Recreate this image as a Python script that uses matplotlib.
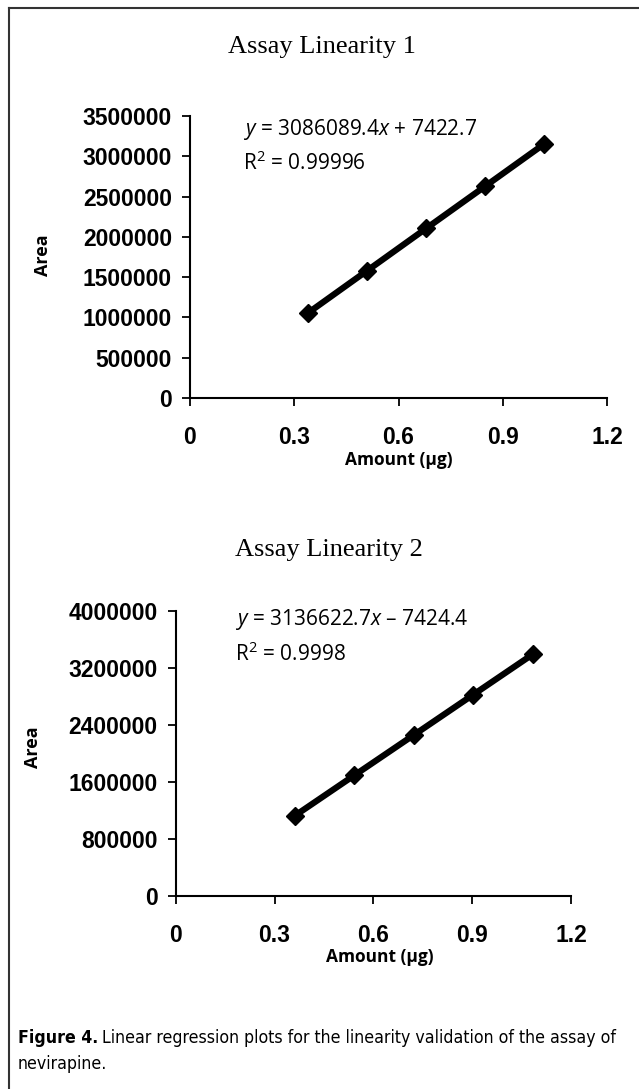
import matplotlib
matplotlib.use("Agg")
import matplotlib.pyplot as plt
from matplotlib.lines import Line2D

# data
amount1 = [0.340, 0.510, 0.680, 0.850, 1.018]
area1 = [1057000, 1581000, 2106000, 2630000, 3149000]
amount2 = [0.362, 0.542, 0.722, 0.902, 1.084]
area2 = [1128000, 1693000, 2257000, 2822000, 3393000]

xticks = [0, 0.3, 0.6, 0.9, 1.2]
xlabels = ["0", "0.3", "0.6", "0.9", "1.2"]
yticks1 = [0, 500000, 1000000, 1500000, 2000000, 2500000, 3000000, 3500000]
yticks2 = [0, 800000, 1600000, 2400000, 3200000, 4000000]

titles = ["Assay Linearity 1", "Assay Linearity 2"]
eqs = ["$y$ = 3086089.4$x$ + 7422.7", "$y$ = 3136622.7$x$ \u2013 7424.4"]
r2s = ["R$^2$ = 0.99996", "R$^2$ = 0.9998"]

W, H = 639, 1089
fig = plt.figure(figsize=(W / 100, H / 100), dpi=100)

# frame around the figure (only top and left show)
fig.add_artist(Line2D([9 / W, 1], [1 - 8 / H, 1 - 8 / H], color="#333333", lw=1.5))
fig.add_artist(Line2D([9 / W, 9 / W], [0, 1 - 8 / H], color="#333333", lw=1.5))

plt.rcParams['mathtext.fontset'] = 'custom'
plt.rcParams['mathtext.it'] = 'Open Sans:italic'
plt.rcParams['mathtext.rm'] = 'Open Sans'


def panel(rect, x, y, yticks, ylim, title, eq, r2, title_y, eq_xy, area_x, amt_y):
    ax = fig.add_axes(rect)
    ax.plot(x, y, color="black", lw=4.5, marker="D", ms=9, solid_capstyle="butt")
    ax.set_xlim(0, 1.2)
    ax.set_ylim(0, ylim)
    ax.set_xticks(xticks)
    ax.set_xticklabels(xlabels)
    ax.set_yticks(yticks)
    ax.set_yticklabels([str(v) for v in yticks])
    for s in ["top", "right"]:
        ax.spines[s].set_visible(False)
    for s in ["left", "bottom"]:
        ax.spines[s].set_linewidth(1.5)
    ax.tick_params(axis="x", length=6, width=1.3, pad=14)
    ax.tick_params(axis="y", length=6, width=1.3, pad=7)
    for lab in ax.get_xticklabels() + ax.get_yticklabels():
        lab.set_family("Liberation Sans")
        lab.set_fontweight("bold")
        lab.set_fontsize(16.5)
    fig.text(title_y[0] / W, 1 - title_y[1] / H, title, family="Liberation Serif",
             fontsize=19, ha="center", va="center")
    fig.text(eq_xy[0] / W, 1 - eq_xy[1] / H, eq, family="Open Sans",
             fontsize=15, ha="left", va="center")
    fig.text(eq_xy[0] / W, 1 - (eq_xy[1] + 34) / H, r2, family="Open Sans",
             fontsize=15, ha="left", va="center")
    fig.text(area_x[0] / W, 1 - area_x[1] / H, "Area", family="Open Sans",
             fontsize=13, fontweight="bold", rotation=90, ha="center", va="center")
    fig.text(amt_y[0] / W, 1 - amt_y[1] / H, "Amount (\u00b5g)", family="Open Sans",
             fontsize=12.5, fontweight="bold", ha="center", va="center")
    return ax


panel([190 / W, 1 - 398 / H, (607 - 190) / W, (398 - 116) / H],
      amount1, area1, yticks1, 3500000, titles[0], eqs[0], r2s[0],
      (322, 47), (243, 129), (43, 255), (399, 460))

panel([175.7 / W, 1 - 896 / H, (571 - 175.7) / W, (896 - 611) / H],
      amount2, area2, yticks2, 4000000, titles[1], eqs[1], r2s[1],
      (329, 550), (235, 620), (33, 747), (380, 957))

# caption, squeezed to the width it has in the print
cap_font = dict(family="DejaVu Sans", fontstretch="condensed", fontsize=14)
fig.canvas.draw()
r = fig.canvas.get_renderer()
t1 = fig.text(18 / W, 1 - 1038 / H, "Figure 4.", fontweight="bold",
              ha="left", va="center", **cap_font)
w1 = t1.get_window_extent(r).width
t2 = fig.text((18 + w1 + 5) / W, 1 - 1038 / H,
              "Linear regression plots for the linearity validation of the assay of",
              ha="left", va="center", **cap_font)
w2 = t2.get_window_extent(r).width
scale = (622 - 18) / (w1 + 5 + w2)
if scale < 1:
    fs = 14 * scale
    t1.set_fontsize(fs)
    w1 = t1.get_window_extent(r).width
    t2.set_fontsize(fs)
    t2.set_x((18 + w1 + 4) / W)
else:
    fs = 14
t3 = fig.text(18 / W, 1 - 1064 / H, "nevirapine.", ha="left", va="center", **cap_font)
t3.set_fontsize(fs)

fig.savefig("out.png", dpi=100)
